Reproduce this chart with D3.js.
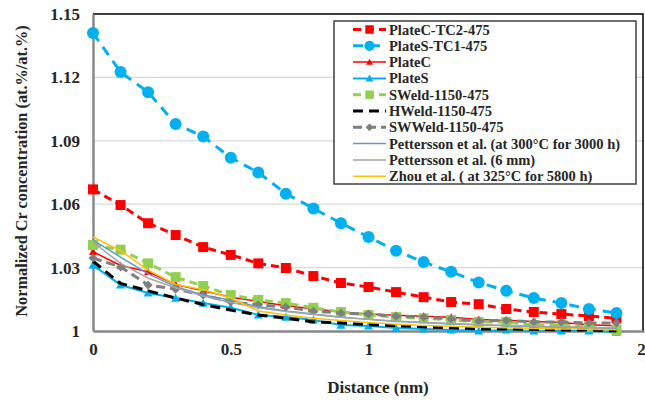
<!DOCTYPE html>
<html>
<head>
<meta charset="utf-8">
<script src="https://cdn.jsdelivr.net/npm/d3@7"></script>
<style>
  body { margin: 0; background: #fff; }
  text { font-family: "Liberation Serif", "Times New Roman", serif; font-weight: bold; fill: #262626; }
</style>
</head>
<body>
<svg id="chart" width="645" height="403"></svg>
<script>
// distance (nm)
const distance = [0, 0.1, 0.2, 0.3, 0.4, 0.5, 0.6, 0.7, 0.8, 0.9, 1.0, 1.1, 1.2, 1.3, 1.4, 1.5, 1.6, 1.7, 1.8, 1.9];

const plateCTC2 = [1.067, 1.0596, 1.051, 1.0454, 1.0397, 1.036, 1.032, 1.0298, 1.026, 1.0227, 1.0208, 1.0184, 1.016, 1.0137, 1.0127, 1.0104, 1.009, 1.008, 1.0071, 1.006];
const plateSTC1 = [1.141, 1.1225, 1.113, 1.098, 1.092, 1.082, 1.075, 1.065, 1.058, 1.051, 1.0445, 1.038, 1.0326, 1.028, 1.023, 1.019, 1.0156, 1.0132, 1.0104, 1.0085];
const plateC = [1.0375, 1.031, 1.028, 1.022, 1.019, 1.016, 1.014, 1.012, 1.0105, 1.009, 1.008, 1.0075, 1.007, 1.0065, 1.0055, 1.005, 1.0045, 1.004, 1.003, 1.0025];
const plateS = [1.0312, 1.0218, 1.018, 1.0156, 1.0132, 1.011, 1.0076, 1.0066, 1.0052, 1.0028, 1.0024, 1.0014, 1.001, 1.0005, 1.0, 1.0005, 1.0, 1.0, 1.0, 0.9995];
const sWeld = [1.0407, 1.0385, 1.032, 1.0255, 1.0213, 1.017, 1.0147, 1.0132, 1.011, 1.009, 1.0076, 1.0066, 1.006, 1.0052, 1.0043, 1.0043, 1.0028, 1.0028, 1.0019, 1.0005];
const hWeld = [1.033, 1.0225, 1.019, 1.0156, 1.0125, 1.0099, 1.0076, 1.006, 1.0043, 1.0038, 1.003, 1.0025, 1.002, 1.0015, 1.001, 1.001, 1.0008, 1.0005, 1.0005, 1.0];
const swWeld = [1.0345, 1.0303, 1.0218, 1.0198, 1.017, 1.0137, 1.0123, 1.0113, 1.0094, 1.0085, 1.008, 1.007, 1.0066, 1.0057, 1.0047, 1.005, 1.0043, 1.0043, 1.0038, 1.0038];
const pettersson3000 = [1.043, 1.035, 1.027, 1.021, 1.017, 1.0145, 1.0115, 1.0095, 1.008, 1.0065, 1.0055, 1.0045, 1.004, 1.0033, 1.003, 1.0025, 1.002, 1.0018, 1.0015, 1.0012];
const pettersson6mm = [1.042, 1.032, 1.025, 1.0205, 1.0165, 1.0135, 1.011, 1.0092, 1.0078, 1.0065, 1.0055, 1.0047, 1.004, 1.0035, 1.003, 1.0026, 1.0022, 1.002, 1.0017, 1.0015];
const zhou = [1.0445, 1.038, 1.0288, 1.022, 1.0195, 1.0156, 1.0095, 1.0076, 1.006, 1.005, 1.004, 1.0032, 1.0026, 1.0022, 1.0018, 1.0015, 1.0012, 1.001, 1.0008, 1.0006];

const xTicks = [0, 0.5, 1, 1.5, 2];
const yTicks = [1, 1.03, 1.06, 1.09, 1.12, 1.15];

const series = [
  { name: 'PlateC-TC2-475', values: plateCTC2, color: '#FF0000', width: 3, dash: '8,5', marker: 'square', size: 10 },
  { name: 'PlateS-TC1-475', values: plateSTC1, color: '#00B0F0', width: 3, dash: '10,7', marker: 'circle', size: 12 },
  { name: 'PlateC', values: plateC, color: '#FF0000', width: 1.5, dash: null, marker: 'triangle', size: 8 },
  { name: 'PlateS', values: plateS, color: '#00B0F0', width: 2, dash: null, marker: 'triangle', size: 9 },
  { name: 'SWeld-1150-475', values: sWeld, color: '#92D050', width: 3, dash: '8,5', marker: 'square', size: 10 },
  { name: 'HWeld-1150-475', values: hWeld, color: '#000000', width: 3, dash: '10,6', marker: null },
  { name: 'SWWeld-1150-475', values: swWeld, color: '#7F7F7F', width: 3, dash: '9,5', marker: 'diamond', size: 9 },
  { name: 'Pettersson et al. (at 300°C for 3000 h)', values: pettersson3000, color: '#5B9BD5', width: 1.5, dash: null, marker: null },
  { name: 'Pettersson et al. (6 mm)', values: pettersson6mm, color: '#A5A5A5', width: 1.5, dash: null, marker: null },
  { name: 'Zhou et al. ( at 325°C for 5800 h)', values: zhou, color: '#FFC000', width: 1.5, dash: null, marker: null }
];

const svg = d3.select('#chart');
const pLeft = 93, pRight = 644, pTop = 14, pBottom = 331;

const x = d3.scaleLinear().domain([0, 2]).range([pLeft, pRight]);
const y = d3.scaleLinear().domain([1, 1.15]).range([pBottom, pTop]);

// gridlines
svg.append('g')
  .selectAll('line')
  .data(yTicks.filter(d => d > 1 && d < 1.15))
  .join('line')
  .attr('x1', pLeft).attr('x2', pRight)
  .attr('y1', d => y(d)).attr('y2', d => y(d))
  .attr('stroke', '#D9D9D9').attr('stroke-width', 1.2);

// frame top & right
svg.append('path')
  .attr('d', `M${pLeft},${pTop}H${pRight - 1}V${pBottom}`)
  .attr('fill', 'none').attr('stroke', '#000').attr('stroke-width', 1.5);

// axes
const xAxis = svg.append('g')
  .attr('transform', `translate(0,${pBottom})`)
  .call(d3.axisBottom(x).tickValues(xTicks).tickFormat(d3.format('')).tickSize(0).tickPadding(12));
const yAxis = svg.append('g')
  .attr('transform', `translate(${pLeft},0)`)
  .call(d3.axisLeft(y).tickValues(yTicks).tickFormat(d => d === 1 ? '1' : d3.format('.2f')(d)).tickSize(0).tickPadding(13));
[xAxis, yAxis].forEach(a => {
  a.select('.domain').attr('stroke', '#898989').attr('stroke-width', 2.5);
  a.selectAll('text').attr('font-size', 17).attr('font-family', '"Liberation Serif", serif').attr('font-weight', 'bold').attr('fill', '#262626');
});
// last x label sits on the window edge, as in the original
xAxis.selectAll('.tick').filter(d => d === 2).select('text').attr('dx', -3);

function markerPath(type, size) {
  const s = size / 2;
  if (type === 'square') return `M${-s},${-s}h${size}v${size}h${-size}Z`;
  if (type === 'circle') return d3.symbol(d3.symbolCircle, Math.PI * s * s)();
  if (type === 'triangle') return `M0,${-s}L${s},${s * 0.8}L${-s},${s * 0.8}Z`;
  if (type === 'diamond') return `M0,${-s}L${s},0L0,${s}L${-s},0Z`;
  return '';
}

const line = d3.line().x((d, i) => x(distance[i])).y(d => y(d));
const plot = svg.append('g');

series.forEach(s => {
  const g = plot.append('g');
  g.append('path')
    .datum(s.values)
    .attr('d', line)
    .attr('fill', 'none')
    .attr('stroke', s.color)
    .attr('stroke-width', s.width)
    .attr('stroke-dasharray', s.dash)
    .attr('stroke-linejoin', 'round');
  if (s.marker) {
    g.selectAll('path.m')
      .data(s.values)
      .join('path')
      .attr('class', 'm')
      .attr('d', markerPath(s.marker, s.size))
      .attr('transform', (d, i) => `translate(${x(distance[i])},${y(d)})`)
      .attr('fill', s.color);
  }
});

// legend
const lg = svg.append('g');
lg.append('rect')
  .attr('x', 334).attr('y', 21).attr('width', 302).attr('height', 163)
  .attr('fill', '#fff').attr('stroke', '#404040').attr('stroke-width', 1.5);
series.forEach((s, i) => {
  const yy = 29.5 + i * 16.3;
  const row = lg.append('g').attr('transform', `translate(0,${yy})`);
  row.append('line')
    .attr('x1', 353).attr('x2', 386)
    .attr('stroke', s.color)
    .attr('stroke-width', s.width)
    .attr('stroke-dasharray', s.dash);
  if (s.marker) {
    row.append('path')
      .attr('d', markerPath(s.marker, s.size * 0.85))
      .attr('transform', 'translate(369.5,0)')
      .attr('fill', s.color);
  }
  row.append('text')
    .attr('x', 389).attr('y', 5)
    .attr('font-size', 14.5)
    .text(s.name);
});

// axis titles
svg.append('text')
  .attr('x', 378).attr('y', 393)
  .attr('text-anchor', 'middle')
  .attr('font-size', 17)
  .text('Distance (nm)');
svg.append('text')
  .attr('transform', 'translate(27,171) rotate(-90)')
  .attr('text-anchor', 'middle')
  .attr('font-size', 16.3)
  .text('Normalized Cr concentration (at.%/at.%)');
</script>
</body>
</html>
